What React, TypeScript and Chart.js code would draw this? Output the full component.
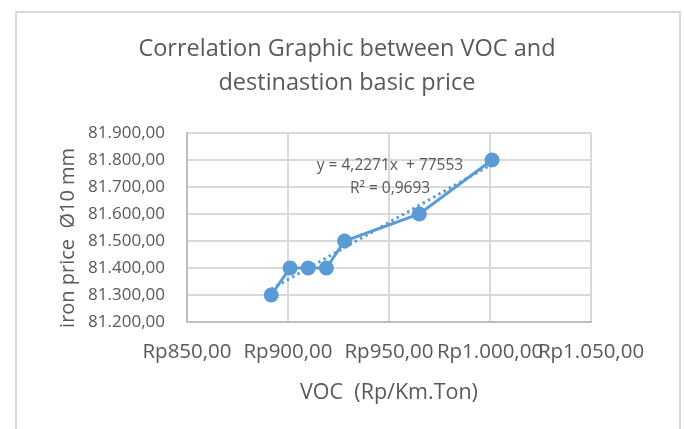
import React, { useEffect, useRef } from "react";
import { Chart, registerables } from "chart.js";

Chart.register(...registerables);

// ---- data ----
const vocValues = [891.7, 901, 910, 919, 928, 965, 1001];
const ironPrices = [81300, 81400, 81400, 81400, 81500, 81600, 81800];
const xTickValues = [850, 900, 950, 1000, 1050];
const yTickValues = [81200, 81300, 81400, 81500, 81600, 81700, 81800, 81900];
const trendSlope = 4.2271;
const trendIntercept = 77553;
const titleLines = ["Correlation Graphic between VOC and", "destinastion basic price"];
const equationLines = ["y = 4,2271x  + 77553", "R\u00B2 = 0,9693"];
const xAxisTitle = "VOC  (Rp/Km.Ton)";
const yAxisTitle = "iron price  \u00D810 mm    ";

// label anchor in data coordinates
const equationAnchor = { x: 950.5, y: [81781, 81696] };

const FONT = "'Open Sans', sans-serif";
const TEXT = "#595959";
const BLUE = "#5b9bd5";

function fmtNum(v: number): string {
  const neg = v < 0;
  const fixed = Math.abs(v).toFixed(2);
  const [int, dec] = fixed.split(".");
  const grouped = int.replace(/\B(?=(\d{3})+(?!\d))/g, ".");
  return (neg ? "-" : "") + grouped + "," + dec;
}

const equationPlugin = {
  id: "equationLabel",
  afterDatasetsDraw(chart: any) {
    const { ctx, scales } = chart;
    ctx.save();
    ctx.fillStyle = TEXT;
    ctx.font = `15.5px ${FONT}`;
    ctx.textAlign = "center";
    ctx.textBaseline = "middle";
    const px = scales.x.getPixelForValue(equationAnchor.x);
    equationLines.forEach((line, i) => {
      ctx.fillText(line, px, scales.y.getPixelForValue(equationAnchor.y[i]));
    });
    ctx.restore();
  },
};

export default function App() {
  const canvasRef = useRef<HTMLCanvasElement | null>(null);

  useEffect(() => {
    if (!canvasRef.current) return;
    const xMin = Math.min(...vocValues);
    const xMax = Math.max(...vocValues);
    const trend = [xMin, xMax].map((x) => ({ x, y: trendSlope * x + trendIntercept }));

    const chart = new Chart(canvasRef.current, {
      type: "scatter",
      data: {
        datasets: [
          {
            label: "trend",
            data: trend,
            showLine: true,
            borderColor: BLUE,
            borderWidth: 3,
            borderDash: [2.5, 3.5],
            pointRadius: 0,
            order: 0,
          },
          {
            label: "iron price",
            data: vocValues.map((x, i) => ({ x, y: ironPrices[i] })),
            showLine: true,
            borderColor: BLUE,
            backgroundColor: BLUE,
            borderWidth: 3,
            pointRadius: 7.5,
            pointBorderWidth: 0,
            pointBackgroundColor: BLUE,
            order: 1,
          },
        ],
      },
      options: {
        animation: false,
        responsive: false,
        devicePixelRatio: 1,
        layout: { autoPadding: false, padding: { left: 10, right: 0, top: 0, bottom: 0 } },
        plugins: {
          legend: { display: false },
          tooltip: { enabled: false },
          title: {
            display: true,
            text: titleLines,
            color: TEXT,
            font: { family: FONT, size: 23.5, weight: "normal", lineHeight: 34 / 23.5 },
            padding: { top: 32, bottom: 33 },
          },
        },
        scales: {
          x: {
            type: "linear",
            min: 850,
            max: 1050,
            afterBuildTicks(scale: any) {
              scale.ticks = xTickValues.map((v) => ({ value: v }));
            },
            afterFit(scale: any) {
              scale.height = 107;
            },
            grid: { color: "#d9d9d9", lineWidth: 2, drawTicks: false },
            border: { color: "#bfbfbf", width: 2 },
            ticks: {
              autoSkip: false,
              maxRotation: 0,
              minRotation: 0,
              padding: 18,
              color: TEXT,
              font: { family: FONT, size: 20.5 },
              callback: (v: any) => "Rp" + fmtNum(Number(v)),
            },
            title: {
              display: true,
              text: xAxisTitle,
              color: TEXT,
              font: { family: FONT, size: 21.5 },
              padding: { top: 0, bottom: 23 },
            },
          },
          y: {
            type: "linear",
            min: 81200,
            max: 81900,
            afterBuildTicks(scale: any) {
              scale.ticks = yTickValues.map((v) => ({ value: v }));
            },
            afterFit(scale: any) {
              scale.width = 177;
            },
            grid: { color: "#d9d9d9", lineWidth: 2, drawTicks: false },
            border: { color: "#bfbfbf", width: 2 },
            ticks: {
              padding: 22,
              color: TEXT,
              font: { family: FONT, size: 17 },
              callback: (v: any) => fmtNum(Number(v)),
            },
            title: {
              display: true,
              text: yAxisTitle,
              color: TEXT,
              font: { family: FONT, size: 20 },
              padding: { top: 46, bottom: 0 },
            },
          },
          y2: {
            type: "linear",
            position: "right",
            display: true,
            afterFit(scale: any) {
              scale.width = 93;
            },
            grid: { display: false, drawTicks: false },
            border: { display: false },
            ticks: { display: false },
          },
        },
      },
      plugins: [equationPlugin],
    } as any);

    return () => chart.destroy();
  }, []);

  return (
    <div style={{ position: "fixed", left: 0, top: 0, width: 684, height: 429, background: "#fff", overflow: "hidden" }}>
      <div
        style={{
          position: "absolute",
          left: 15,
          top: 11,
          width: 666,
          height: 500,
          boxSizing: "border-box",
          borderTop: "2px solid #d9d9d9",
          borderLeft: "2px solid #d9d9d9",
          borderRight: "2px solid #d9d9d9",
        }}
      />
      <canvas
        ref={canvasRef}
        width={684}
        height={429}
        style={{ position: "absolute", left: 0, top: 0, width: 684, height: 429 }}
      />
    </div>
  );
}
